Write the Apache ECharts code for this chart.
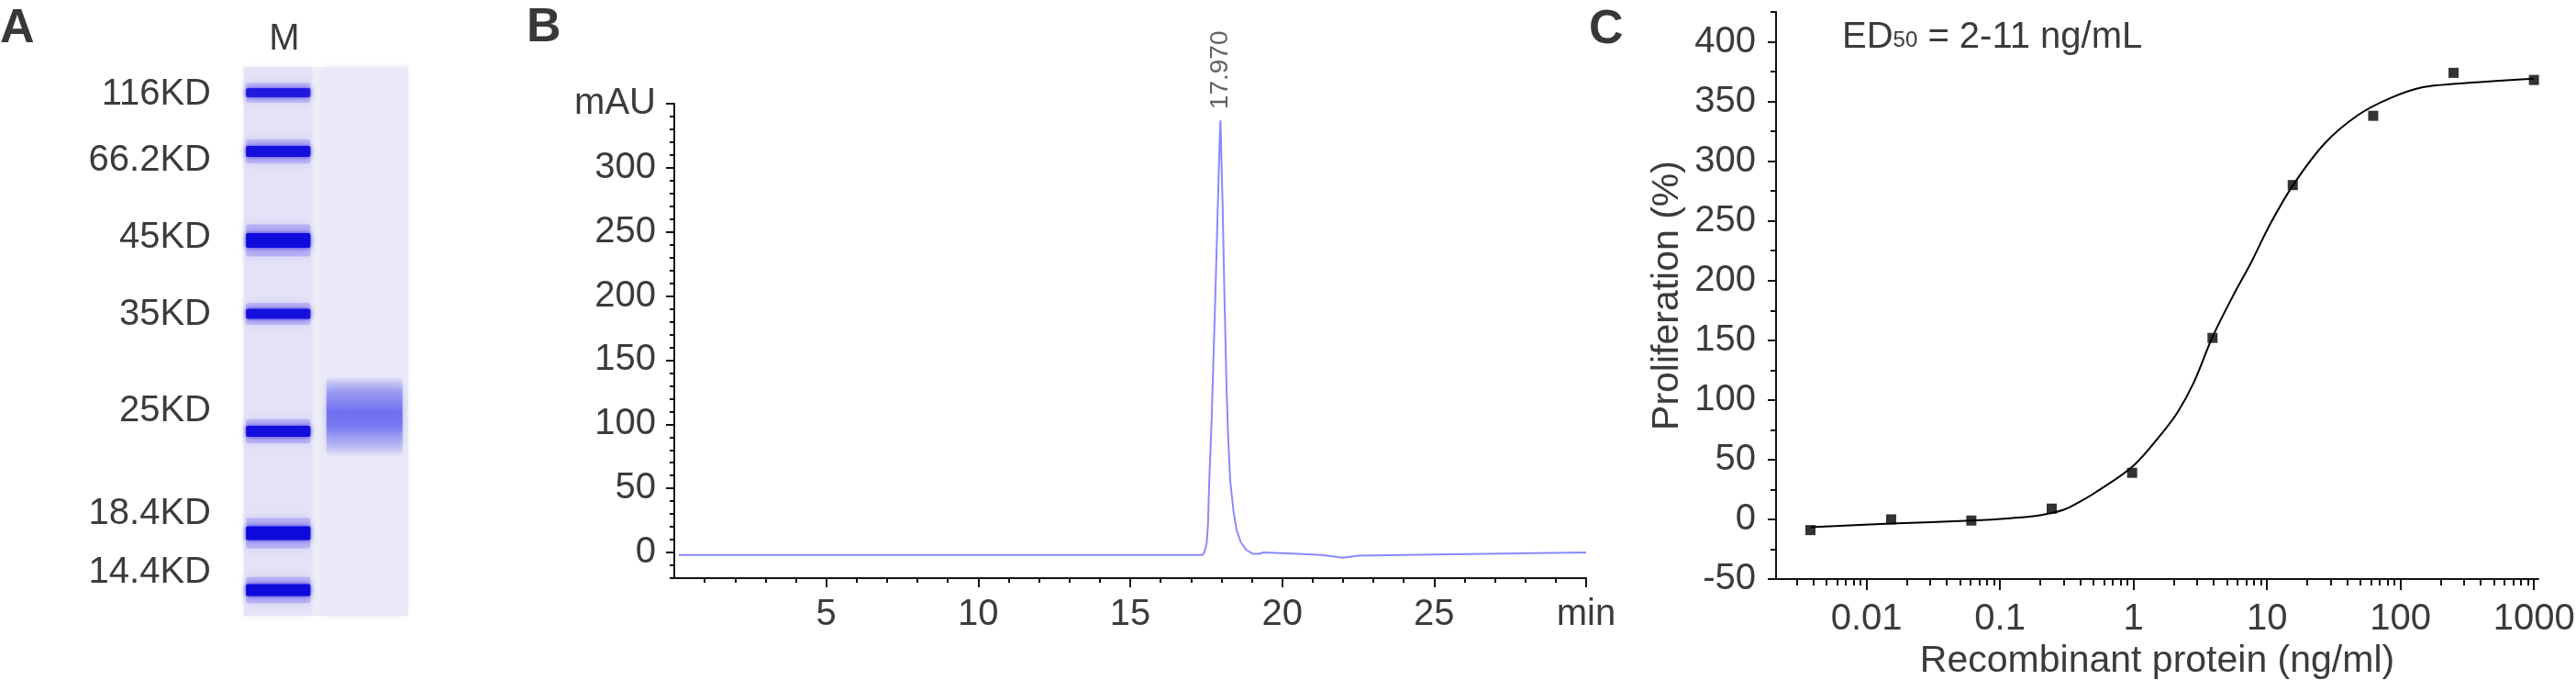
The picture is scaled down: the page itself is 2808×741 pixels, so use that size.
<!DOCTYPE html>
<html>
<head>
<meta charset="utf-8">
<script src="https://cdn.jsdelivr.net/npm/echarts@6/dist/echarts.min.js"></script>
<style>
html, body { margin: 0; padding: 0; background: #fff; }
#main { width: 2808px; height: 741px; }
</style>
</head>
<body>
<div id="main"></div>
<script>
// ---- panel A: SDS-PAGE (migration measured from the top of the gel) ----
var laneNames = ['M', ''];
var markerNames = ['116KD', '66.2KD', '45KD', '35KD', '25KD', '18.4KD', '14.4KD'];
var markerLabelPos = [30, 102, 186, 270, 375, 487, 551];
var markerBandPos = [28, 92, 189, 269, 397, 508, 570];
var markerBandSpread = [10, 12, 16, 11, 12, 15, 13];
var markerBandDensity = [0.78, 0.92, 1, 0.9, 0.95, 1, 1];
var sampleBandPos = [381];
var sampleBandSpread = [88];

// ---- panel B: SEC-HPLC chromatogram ----
var retentionTime = [0.15, 5, 10, 15, 17.37, 17.44, 17.52, 17.56, 17.60, 17.68, 17.80, 17.89, 17.94, 17.97,
    18.00, 18.04, 18.10, 18.17, 18.22, 18.29, 18.40, 18.50, 18.64, 18.82, 19.03, 19.23, 19.38,
    20.5, 21.3, 22.0, 22.5, 25, 30];
var absorbance = [-2, -2, -2, -2, -2, 0, 7.9, 22.3, 55.9, 103.8, 199.8, 276.5, 319.6, 337,
    307.7, 271.7, 199.8, 127.8, 91.8, 55.9, 31.9, 17.5, 7.9, 2, -1, -1, 0,
    -1, -2, -4, -2.5, -1.5, 0];
var peakTime = [17.970];
var peakHeight = [337];
var yTicksB = [0, 50, 100, 150, 200, 250, 300, 350];
var xTicksB = [5, 10, 15, 20, 25, 30];

// ---- panel C: cell proliferation ----
var dose = [0.0038, 0.0153, 0.061, 0.244, 0.977, 3.91, 15.6, 62.5, 250, 1000];
var proliferation = [-9, 0, -1, 9, 39, 152, 280, 338, 374, 368];
var fitDose = [0.0038, 0.0153, 0.061, 0.12, 0.2, 0.3, 0.4, 0.52, 1, 1.62, 2.14, 2.84, 3.9, 5.6, 7.6,
    10.4, 15.7, 27, 47.7, 84, 147, 260, 1000];
var fitProliferation = [-6.5, -3.5, -1, 1, 3.5, 8, 15, 22.6, 45, 71.6, 89.7, 115, 152.5, 187.7, 215,
    245.8, 280, 314.7, 338.3, 352.8, 361.9, 364.8, 369];
var xTickLabelsC = ['0.01', '0.1', '1', '10', '100', '1000'];
var yTicksC = [-50, 0, 50, 100, 150, 200, 250, 300, 350, 400];

var FONT = '"Liberation Sans", Arial, Helvetica, sans-serif';
var TXT = '#3b3b3b';
var AX = '#111';

function steps(a, b, s) {
    var out = [];
    for (var v = a; v <= b + 1e-9; v += s) out.push(+v.toFixed(6));
    return out;
}
function zip(xs, ys, fx) {
    return xs.map(function (x, i) { return [fx ? fx(x) : x, ys[i]]; });
}

var cMin = Math.log10(0.0021), cMax = Math.log10(1080);
var xMajorC = xTickLabelsC.map(function (s) { return Math.log10(parseFloat(s)); });
var xMinorC = [];
for (var d = -3; d <= 2; d++) {
    for (var k = 2; k <= 9; k++) {
        var v = d + Math.log10(k);
        if (v > cMin && v < cMax) xMinorC.push(v);
    }
}

var chart = echarts.init(document.getElementById('main'), null, { renderer: 'canvas' });

function laneBg(params, api) {
    var lane = api.value(0);
    var colW = api.size([1, 0])[0];
    var top = api.coord([lane, 0]);
    var bottom = api.coord([lane, 598]);
    var w = lane === 0 ? colW * 0.81 : colW * 1.04;
    var cx = top[0] + (lane === 0 ? -0.075 : -0.03) * colW;
    return {
        type: 'rect',
        shape: { x: cx - w / 2, y: top[1], width: w, height: bottom[1] - top[1] },
        style: { fill: lane === 0 ? '#e3e2f6' : '#e9e9f7', shadowBlur: 6, shadowColor: '#e6e6f6' }
    };
}

function markerBand(params, api) {
    var colW = api.size([1, 0])[0];
    var c = api.coord([0, api.value(1)]);
    var h = api.size([0, api.value(2)])[1];
    var dens = api.value(3);
    var w = colW * 0.78;
    var cx = c[0] - 0.075 * colW;
    return {
        type: 'group',
        children: [{
            type: 'rect',
            shape: { x: cx - w / 2, y: c[1] - h * 1.1, width: w, height: h * 2.2, r: 3 },
            style: { fill: 'rgba(120,105,240,' + (0.35 * dens) + ')', shadowBlur: 8, shadowColor: 'rgba(120,105,240,0.5)' }
        }, {
            type: 'rect',
            shape: { x: cx - w / 2, y: c[1] - h / 2, width: w, height: h, r: 2 },
            style: { fill: 'rgba(' + Math.round(70 - 55 * dens) + ',' + Math.round(50 - 40 * dens) + ',220,' + (0.55 + 0.45 * dens) + ')',
                shadowBlur: 5, shadowColor: 'rgba(30,20,220,0.8)' }
        }]
    };
}

function sampleBand(params, api) {
    var colW = api.size([1, 0])[0];
    var c = api.coord([1, api.value(1)]);
    var h = api.size([0, api.value(2)])[1];
    var w = colW * 0.92;
    var cx = c[0] - 0.03 * colW;
    return {
        type: 'rect',
        shape: { x: cx - w / 2, y: c[1] - h / 2, width: w, height: h, r: 6 },
        style: {
            fill: new echarts.graphic.LinearGradient(0, 0, 0, 1, [
                { offset: 0, color: 'rgba(140,140,240,0)' },
                { offset: 0.22, color: 'rgba(135,135,242,0.75)' },
                { offset: 0.45, color: 'rgba(112,112,240,1)' },
                { offset: 0.62, color: 'rgba(118,118,240,0.95)' },
                { offset: 0.82, color: 'rgba(150,150,242,0.55)' },
                { offset: 1, color: 'rgba(160,160,240,0)' }
            ]),
            shadowBlur: 6, shadowColor: 'rgba(130,130,240,0.6)'
        }
    };
}

var tickLabel = { fontSize: 40, color: TXT, fontFamily: FONT };
function axisStyle(width) { return { onZero: false, lineStyle: { color: AX, width: width } }; }
var noLine = { show: false, onZero: false };
var letterStyle = { fontSize: 52, fontWeight: 'bold', color: '#383838', fontFamily: FONT };

var option = {
    animation: false,
    textStyle: { fontFamily: FONT },
    title: [
        { text: 'A', left: 0, top: 6, padding: 0, textStyle: letterStyle },
        { text: 'B', left: 574, top: 5, padding: 0, textStyle: letterStyle },
        { text: 'C', left: 1732, top: 7, padding: 0, textStyle: letterStyle },
        {
            text: '{m|ED}{s|50}{m| = 2-11 ng/mL}', left: 2008, top: 15, padding: 0,
            textStyle: {
                fontWeight: 'normal',
                rich: {
                    m: { fontSize: 40, lineHeight: 46, fontWeight: 'normal', color: TXT, fontFamily: FONT, verticalAlign: 'bottom' },
                    s: { fontSize: 24, lineHeight: 28, fontWeight: 'normal', color: TXT, fontFamily: FONT, verticalAlign: 'bottom', padding: [0, 0, 5, 0] }
                }
            }
        }
    ],
    grid: [
        { left: 265, top: 73, width: 180, height: 598, show: true, backgroundColor: '#eeeef8', borderWidth: 0, containLabel: false, outerBoundsMode: 'none' },
        { left: 735, top: 113, width: 994, height: 517, containLabel: false, outerBoundsMode: 'none' },
        { left: 1936, top: 13, width: 831, height: 618, containLabel: false, outerBoundsMode: 'none' }
    ],
    xAxis: [
        { gridIndex: 0, type: 'category', data: laneNames, position: 'top',
          axisLine: noLine, axisTick: { show: false }, splitLine: { show: false },
          axisLabel: Object.assign({ margin: 10 }, tickLabel) },
        { gridIndex: 1, type: 'value', min: 0, max: 30, position: 'bottom', splitLine: { show: false },
          axisLine: axisStyle(2),
          axisTick: { customValues: xTicksB, length: 10, lineStyle: { color: AX, width: 2 } },
          axisLabel: Object.assign({ customValues: xTicksB, margin: 20,
              formatter: function (v) { return v === 30 ? 'min' : String(v); } }, tickLabel) },
        { gridIndex: 1, type: 'value', min: 0, max: 30, position: 'bottom', splitLine: { show: false },
          axisLine: noLine, axisLabel: { show: false },
          axisTick: { customValues: steps(1, 29, 1), length: 5, lineStyle: { color: AX, width: 2 } } },
        { gridIndex: 2, type: 'value', min: cMin, max: cMax, position: 'bottom', splitLine: { show: false },
          name: 'Recombinant protein (ng/ml)', nameLocation: 'middle', nameGap: 54,
          nameTextStyle: { fontSize: 41, color: TXT, fontFamily: FONT },
          axisLine: axisStyle(2),
          axisTick: { customValues: xMajorC, length: 12, lineStyle: { color: AX, width: 2 } },
          axisLabel: Object.assign({ customValues: xMajorC, margin: 24,
              formatter: function (v) {
                  for (var i = 0; i < xMajorC.length; i++) if (Math.abs(xMajorC[i] - v) < 1e-6) return xTickLabelsC[i];
                  return '';
              } }, tickLabel) },
        { gridIndex: 2, type: 'value', min: cMin, max: cMax, position: 'bottom', splitLine: { show: false },
          axisLine: noLine, axisLabel: { show: false },
          axisTick: { customValues: xMinorC, length: 7, lineStyle: { color: AX, width: 2 } } }
    ],
    yAxis: [
        { gridIndex: 0, type: 'value', inverse: true, min: 0, max: 598, offset: 10, position: 'left', splitLine: { show: false },
          axisLine: noLine,
          axisTick: { customValues: markerLabelPos, length: 22, lineStyle: { color: '#333', width: 3 } },
          axisLabel: Object.assign({ customValues: markerLabelPos, margin: 25,
              formatter: function (v) { return markerNames[markerLabelPos.indexOf(v)] || ''; } }, tickLabel) },
        { gridIndex: 1, type: 'value', min: -20, max: 350, position: 'left', splitLine: { show: false },
          axisLine: axisStyle(2),
          axisTick: { customValues: yTicksB, length: 9, lineStyle: { color: AX, width: 2 } },
          axisLabel: Object.assign({ customValues: yTicksB, margin: 20,
              formatter: function (v) { return v === 350 ? 'mAU' : String(v); } }, tickLabel) },
        { gridIndex: 1, type: 'value', min: -20, max: 350, position: 'left', splitLine: { show: false },
          axisLine: noLine, axisLabel: { show: false },
          axisTick: { customValues: steps(-20, 340, 10), length: 5, lineStyle: { color: AX, width: 2 } } },
        { gridIndex: 2, type: 'value', min: -50, max: 425, position: 'left', splitLine: { show: false },
          name: 'Proliferation (%)', nameLocation: 'middle', nameRotate: 90, nameGap: 98,
          nameTextStyle: { fontSize: 41, color: TXT, fontFamily: FONT },
          axisLine: axisStyle(2),
          axisTick: { customValues: yTicksC, length: 9, lineStyle: { color: AX, width: 2 } },
          axisLabel: Object.assign({ customValues: yTicksC, margin: 22 }, tickLabel) },
        { gridIndex: 2, type: 'value', min: -50, max: 425, position: 'left', splitLine: { show: false },
          axisLine: noLine, axisLabel: { show: false },
          axisTick: { customValues: steps(-25, 425, 50), length: 6, lineStyle: { color: AX, width: 2 } } }
    ],
    series: [
        { type: 'custom', xAxisIndex: 0, yAxisIndex: 0, silent: true, renderItem: laneBg,
          data: laneNames.map(function (n, i) { return [i]; }) },
        { type: 'custom', xAxisIndex: 0, yAxisIndex: 0, silent: true, renderItem: markerBand,
          data: markerBandPos.map(function (p, i) { return [0, p, markerBandSpread[i], markerBandDensity[i]]; }) },
        { type: 'custom', xAxisIndex: 0, yAxisIndex: 0, silent: true, renderItem: sampleBand,
          data: sampleBandPos.map(function (p, i) { return [1, p, sampleBandSpread[i]]; }) },
        { type: 'line', xAxisIndex: 1, yAxisIndex: 1, silent: true, showSymbol: false, symbol: 'none',
          lineStyle: { color: '#8a8aff', width: 2 }, data: zip(retentionTime, absorbance) },
        { type: 'scatter', xAxisIndex: 1, yAxisIndex: 1, silent: true, symbolSize: 0,
          data: zip(peakTime, peakHeight),
          label: { show: true, position: 'top', distance: 12, rotate: 90, align: 'left', verticalAlign: 'middle',
                   fontSize: 28, color: TXT, fontFamily: FONT,
                   formatter: function (p) { return p.value[0].toFixed(3); } } },
        { type: 'line', xAxisIndex: 3, yAxisIndex: 3, silent: true, showSymbol: false, symbol: 'none',
          smooth: 0.35,
          lineStyle: { color: '#000', width: 2 }, data: zip(fitDose, fitProliferation, Math.log10) },
        { type: 'scatter', xAxisIndex: 3, yAxisIndex: 3, silent: true, symbol: 'rect', symbolSize: 11,
          itemStyle: { color: '#000' }, data: zip(dose, proliferation, Math.log10) }
    ]
};

chart.setOption(option);
</script>
</body>
</html>
